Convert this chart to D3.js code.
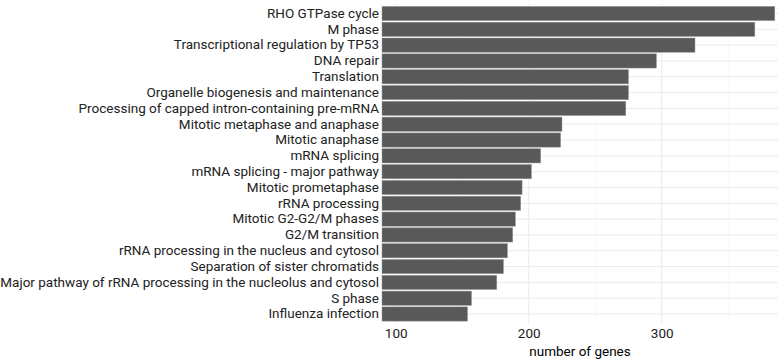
<!DOCTYPE html>
<html>
<head>
<meta charset="utf-8">
<script src="https://cdn.jsdelivr.net/npm/d3@7"></script>
<style>
  body { margin: 0; background: #fff; }
  text { font-family: Roboto, "Noto Sans", sans-serif; }
</style>
</head>
<body>
<div id="chart"></div>
<script>
// pathways, top to bottom
var pathways = [
  "RHO GTPase cycle",
  "M phase",
  "Transcriptional regulation by TP53",
  "DNA repair",
  "Translation",
  "Organelle biogenesis and maintenance",
  "Processing of capped intron-containing pre-mRNA",
  "Mitotic metaphase and anaphase",
  "Mitotic anaphase",
  "mRNA splicing",
  "mRNA splicing - major pathway",
  "Mitotic prometaphase",
  "rRNA processing",
  "Mitotic G2-G2/M phases",
  "G2/M transition",
  "rRNA processing in the nucleus and cytosol",
  "Separation of sister chromatids",
  "Major pathway of rRNA processing in the nucleolus and cytosol",
  "S phase",
  "Influenza infection"
];
var geneCounts = [385, 370, 325, 296, 275, 275, 273, 225, 224, 209, 202, 195, 194, 190, 188, 184, 181, 176, 157, 154];
var xTicks = [100, 200, 300];
var xMinor = [150, 250, 350];

var width = 780, height = 360;
var margin = { top: 4, right: 2, bottom: 36.5, left: 382 };

var svg = d3.select("#chart").append("svg")
  .attr("width", width)
  .attr("height", height);

// x scale: 100 -> 396, 300 -> 662.7
var x = d3.scaleLinear()
  .domain([89.7, 387.4])
  .range([margin.left, width - margin.right]);

var y = d3.scaleBand()
  .domain(pathways)
  .range([margin.top, height - margin.bottom])
  .paddingInner(0.1)
  .paddingOuter(0.15);

// grid
var grid = svg.append("g");
grid.selectAll(".minor").data(xMinor).join("line")
  .attr("x1", d => x(d)).attr("x2", d => x(d))
  .attr("y1", margin.top).attr("y2", height - margin.bottom)
  .attr("stroke", "#f2f2f2").attr("stroke-width", 0.6);
grid.selectAll(".major").data(xTicks).join("line")
  .attr("x1", d => x(d)).attr("x2", d => x(d))
  .attr("y1", margin.top).attr("y2", height - margin.bottom)
  .attr("stroke", "#ebebeb").attr("stroke-width", 1);
grid.selectAll(".ymajor").data(pathways).join("line")
  .attr("x1", margin.left).attr("x2", width - margin.right)
  .attr("y1", d => y(d) + y.bandwidth() / 2)
  .attr("y2", d => y(d) + y.bandwidth() / 2)
  .attr("stroke", "#ebebeb").attr("stroke-width", 1);

// bars
svg.append("g").selectAll("rect")
  .data(pathways)
  .join("rect")
  .attr("x", x.range()[0])
  .attr("y", d => y(d))
  .attr("width", (d, i) => x(geneCounts[i]) - x.range()[0])
  .attr("height", y.bandwidth())
  .attr("fill", "#595959")
  .attr("stroke", "#9a9a9a")
  .attr("stroke-width", 0.5);

// y axis labels
svg.append("g")
  .attr("transform", `translate(${margin.left},0)`)
  .call(d3.axisLeft(y).tickSize(0).tickPadding(3))
  .call(g => g.select(".domain").remove())
  .call(g => g.selectAll("text")
    .attr("font-size", 13.5)
    .attr("fill", "#222"));

// x axis labels
svg.append("g")
  .attr("transform", `translate(0,${height - margin.bottom})`)
  .call(d3.axisBottom(x).tickValues(xTicks).tickSize(0).tickPadding(5))
  .call(g => g.select(".domain").remove())
  .call(g => g.selectAll("text")
    .attr("font-size", 13.5)
    .attr("fill", "#222"));

svg.append("text")
  .attr("x", (x.range()[0] + x.range()[1]) / 2)
  .attr("y", height - 4)
  .attr("text-anchor", "middle")
  .attr("font-size", 13.5)
  .attr("fill", "#000")
  .text("number of genes");
</script>
</body>
</html>
